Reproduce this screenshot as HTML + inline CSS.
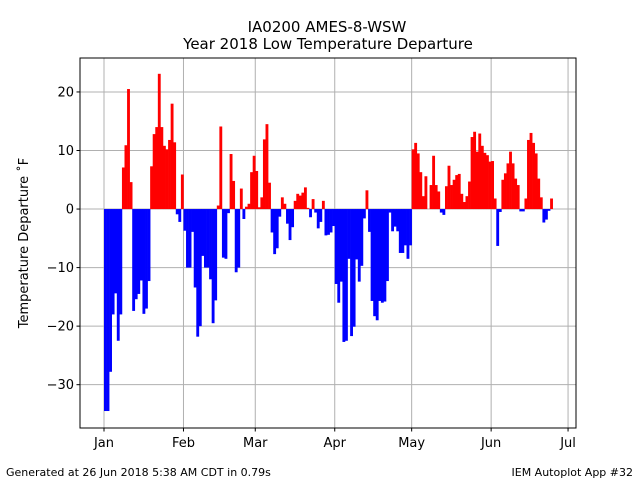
<!DOCTYPE html>
<html><head><meta charset="utf-8">
<style>
body{margin:0;background:#fff;}
svg{display:block;font-family:"DejaVu Sans","Liberation Sans",sans-serif;}
</style></head>
<body>
<svg id="chart" width="640" height="480" viewBox="0 0 640 480">
<rect x="0" y="0" width="640" height="480" fill="#fff"/>
<text x="327" y="32" font-size="15" text-anchor="middle">IA0200 AMES-8-WSW</text>
<text x="328" y="49" font-size="15" text-anchor="middle">Year 2018 Low Temperature Departure</text>
<text transform="translate(28,243) rotate(-90)" font-size="13" text-anchor="middle">Temperature Departure ˚F</text>
<g id="grid"></g>
<g id="bars"></g>
<rect x="80" y="58" width="496" height="370" fill="none" stroke="#000" stroke-width="1"/>
<g id="ticks"></g>
<text x="6" y="476" font-size="11">Generated at 26 Jun 2018 5:38 AM CDT in 0.79s</text>
<text x="633" y="476" font-size="11" text-anchor="end">IEM Autoplot App #32</text>
</svg>
<script>
const janVals = [-34.5,-34.5,-27.8,-18,-14.4,-22.5,-18,7.1,10.9,20.5,4.6,-17.4,-15.4,-14.5,-12.2,-17.9,-17,-12.3,7.3,12.8,14,23.1,14,10.8,10.2,11.8,18,11.4,-0.9,-2.2,5.9];
const febVals = [-3.7,-10,-10,-3.9,-13.4,-21.8,-20,-8,-10,-10,-12,-19.5,-15.6,0.6,14.1,-8.3,-8.5,-0.7,9.4,4.8,-10.8,-10,3.5,-1.7,0.4,0.9,6.3,9.1];
const marVals = [6.5,0.3,2.0,11.9,14.5,4.5,-4,-7.7,-6.7,-1.3,2,0.9,-2.5,-5.3,-3.1,1.4,2.6,2.3,2.8,3.7,0.2,-1.4,1.7,-0.6,-3.3,-2.2,1.4,-4.5,-4.4,-4,-2.9];
const aprVals = [-12.8,-16,-12.4,-22.7,-22.5,-8.5,-21.7,-20.1,-8.6,-12.4,-9.7,-1.6,3.2,-3.9,-15.7,-18.3,-19,-15.7,-16,-15.8,-12.3,-0.6,-3.8,-3,-3.8,-7.5,-7.5,-6.2,-8.5,-6.2];
const mayVals = [10.2,11.3,9.5,6.3,2.2,5.6,0,4.1,9.1,4.1,3,-0.6,-1,3.9,7.4,4.1,5,5.8,6,2.6,1.2,2.2,4.7,12.3,13.2,9.8,12.9,10.8,9.6,9.2,8.1];
const junVals = [8.2,1.8,-6.3,-0.5,5,6.1,7.8,9.8,7.8,5.2,4.1,-0.4,-0.4,1.8,11.8,13,11.3,9.5,5.2,2,-2.3,-1.8,-0.3,1.8];
const yTicks = [-30,-20,-10,0,10,20];
const monthLabels = ["Jan","Feb","Mar","Apr","May","Jun","Jul"];
const monthStartDays = [0,31,59,90,120,151,181];

const NS = "http://www.w3.org/2000/svg";
const PL=80, PR=576, PT=58, PB=428;
const YMIN=-37.4, YMAX=25.8, XMIN=-9.36, XMAX=184.1;
function xs(d){return PL + (d - XMIN)/(XMAX - XMIN)*(PR-PL);}
function ys(v){return PB - (v - YMIN)/(YMAX - YMIN)*(PB-PT);}
function mk(tag, attrs, parent){const e=document.createElementNS(NS,tag);for(const k in attrs)e.setAttribute(k,attrs[k]);parent.appendChild(e);return e;}

const grid=document.getElementById('grid'), bars=document.getElementById('bars'), ticks=document.getElementById('ticks');
yTicks.forEach(t=>{
  const y=ys(t);
  const l=mk('line',{x1:PL,x2:PR,y1:y,y2:y,stroke:'#b0b0b0','stroke-width':1},grid);
  
  
  const tk=mk('line',{x1:PL-3.5,x2:PL,y1:y,y2:y,stroke:'#000'},ticks);
  
  
  const tx=mk('text',{x:PL-6,y:y+4.5,'font-size':13,'text-anchor':'end'},ticks);
  tx.textContent=String(t).replace('-','−');
  
  
});
monthStartDays.forEach((d,i)=>{
  const x=xs(d);
  const l=mk('line',{x1:x,x2:x,y1:PT,y2:PB,stroke:'#b0b0b0','stroke-width':1},grid);
  
  
  const tk=mk('line',{x1:x,x2:x,y1:PB,y2:PB+3.5,stroke:'#000'},ticks);
  
  
  const tx=mk('text',{x:x,y:PB+19,'font-size':13,'text-anchor':'middle'},ticks);
  tx.textContent=monthLabels[i];
  
  
});
const allVals=[].concat(janVals,febVals,marVals,aprVals,mayVals,junVals);
allVals.forEach((v,d)=>{
  const x0=xs(d), x1=xs(d+1);
  const y0=ys(0), y1=ys(v);
  const col=v>=0?'#ff0000':'#0000ff';
  const r=mk('rect',{x:x0,y:Math.min(y0,y1),width:x1-x0+0.3,height:Math.abs(y1-y0),fill:col},bars);
  
  
});
</script>
</body></html>
